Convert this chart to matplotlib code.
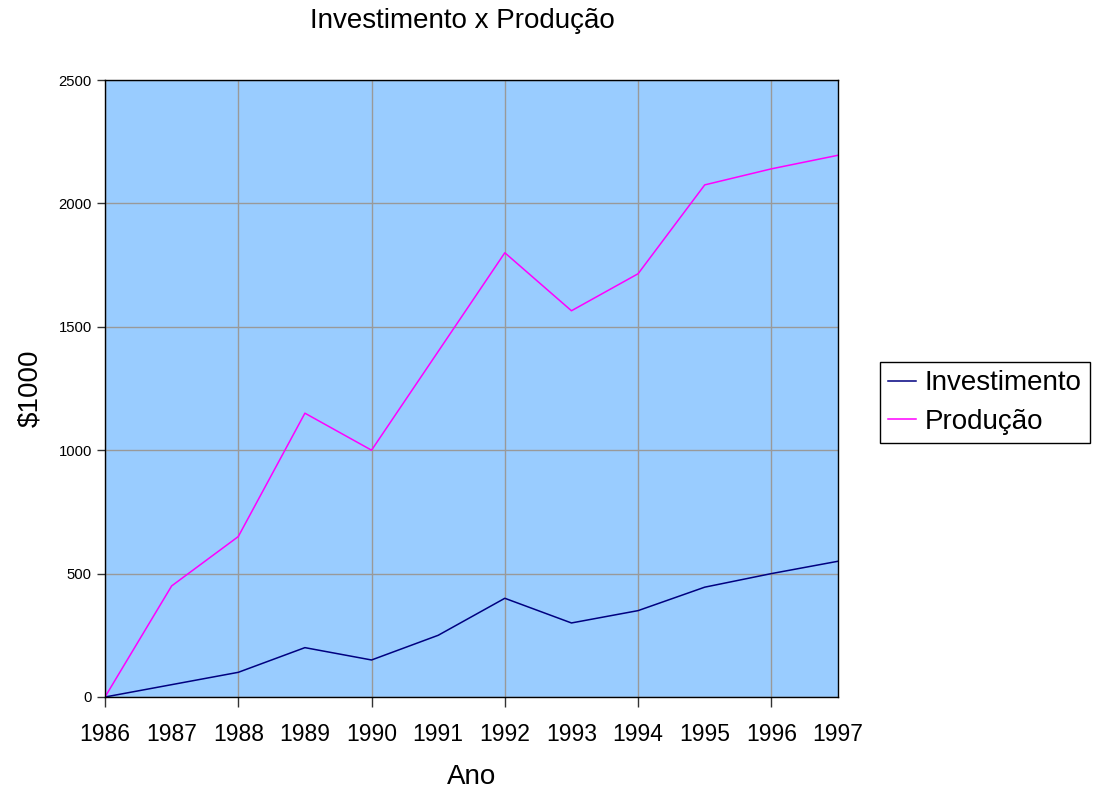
import matplotlib
matplotlib.use("Agg")
import matplotlib.pyplot as plt
from matplotlib.ticker import FixedLocator

plt.rcParams['font.family'] = ['Liberation Sans', 'DejaVu Sans']

anos = [1986, 1987, 1988, 1989, 1990, 1991, 1992, 1993, 1994, 1995, 1996, 1997]
investimento = [0, 50, 100, 200, 150, 250, 400, 300, 350, 445, 500, 550]
producao = [0, 450, 650, 1150, 1000, 1400, 1800, 1565, 1715, 2075, 2140, 2195]
y_ticks = [0, 500, 1000, 1500, 2000, 2500]
grid_anos = [1986, 1988, 1990, 1992, 1994, 1996]

fig = plt.figure(figsize=(10.97, 7.89), dpi=100)
ax = fig.add_axes([105/1097, 1-697/789, (838-105)/1097, (697-80)/789])
ax.set_facecolor('#99ccff')

ax.plot(anos, investimento, color='#000080', lw=1.1, label='Investimento')
ax.plot(anos, producao, color='#ff00ff', lw=1.1, label='Produção')

ax.set_xlim(1986, 1997)
ax.set_ylim(0, 2500)

ax.xaxis.remove_overlapping_locs = False
ax.set_xticks(anos)
ax.set_xticklabels([str(a) for a in anos], fontsize=16.5)
ax.tick_params(axis='x', which='major', length=0, pad=19)
ax.xaxis.set_minor_locator(FixedLocator(grid_anos))
ax.tick_params(axis='x', which='minor', length=7, width=1, color='#333333')
ax.xaxis.grid(True, which='minor', color='#999999', lw=1)
ax.xaxis.grid(False, which='major')

ax.set_yticks(y_ticks)
ax.set_yticklabels([str(v) for v in y_ticks], fontsize=10.7)
ax.tick_params(axis='y', length=6, width=1, color='#333333')
ax.yaxis.grid(True, which='major', color='#999999', lw=1)
ax.set_axisbelow(True)

for s in ax.spines.values():
    s.set_color('black')
    s.set_linewidth(1)

fig.text(462/1097, 1-21/789, 'Investimento x Produção', ha='center', va='center', fontsize=20)
fig.text(472/1097, 1-777/789, 'Ano', ha='center', va='center', fontsize=20)
fig.text(30/1097, 1-388/789, '$1000', ha='center', va='center', fontsize=20, rotation=90)

leg = fig.legend(loc='center left', bbox_to_anchor=(880/1097, 1-402.5/789), fontsize=20,
                 frameon=True, fancybox=False, edgecolor='black', framealpha=1,
                 handlelength=1.0, handletextpad=0.3, borderpad=0.3, labelspacing=0.45,
                 borderaxespad=0)
leg.get_frame().set_linewidth(1)

fig.savefig('out.png', dpi=100)
